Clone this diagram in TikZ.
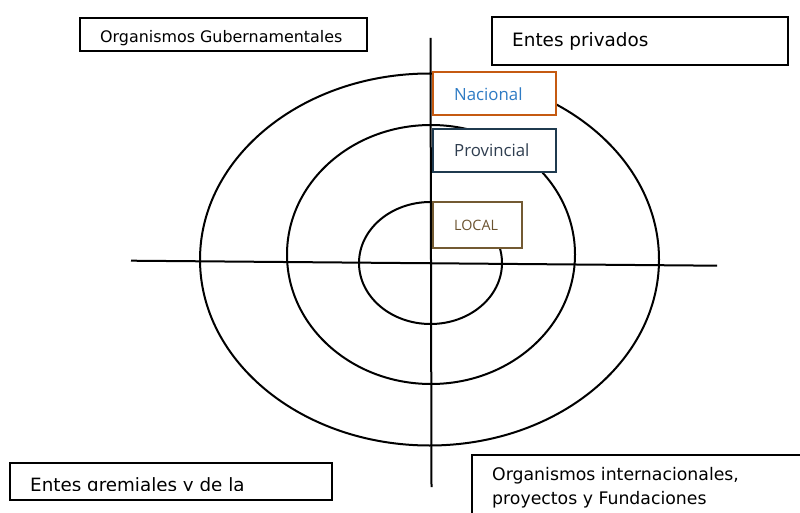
\documentclass[tikz,border=0pt]{standalone}
\usepackage{fontspec}
\setmainfont{DejaVu Sans}
\newfontfamily\boxfont{Open Sans}
\definecolor{orangeb}{HTML}{C55A11}
\definecolor{navyb}{HTML}{1F3A4F}
\definecolor{brownb}{HTML}{735A32}
\definecolor{bluet}{HTML}{2E7BC4}
\definecolor{slatet}{HTML}{2F3E50}
\definecolor{brownt}{HTML}{6B5330}
\begin{document}
\begin{tikzpicture}[x=1pt,y=-1pt,
  ring/.style={draw=black,line width=2pt},
  axis/.style={draw=black,line width=2pt},
  plainbox/.style={draw=black,fill=white,line width=2pt,rectangle,inner sep=0pt},
  openbox/.style={fill=white,rectangle,inner sep=0pt},
  levelbox/.style={fill=white,line width=2.6pt,rectangle,inner sep=0pt},
  lbl/.style={anchor=base west,inner sep=0pt}]
\useasboundingbox[fill=white] (0,0) rectangle (800,513);
% rings
\draw[ring] (429.5,259.5) ellipse [x radius=229.5pt, y radius=186pt];
\draw[ring] (431,254.5) ellipse [x radius=144pt, y radius=129.5pt];
\draw[ring] (430.5,263) ellipse [x radius=71.5pt, y radius=61pt];
% axes
\coordinate (hl) at (131,260.7);
\coordinate (hr) at (717,265.7);
\coordinate (vt) at (430.5,38);
\coordinate (vb) at (431.5,487);
\draw[axis] (hl) -- (hr);
\draw[axis] (vt) -- (vb);
% top boxes
\node[plainbox,minimum width=287pt,minimum height=33pt] (gub) at (223.5,34.5) {};
\node[lbl,font=\fontsize{15.9}{18}\selectfont] (gubt) at (100,43) {Organismos Gubernamentales};
\node[plainbox,minimum width=296pt,minimum height=48pt] (priv) at (640,41) {};
\node[lbl,font=\fontsize{18.4}{20}\selectfont] (privt) at (512,47) {Entes privados};
% level boxes
\node[levelbox,draw=orangeb,minimum width=123pt,minimum height=43pt] (nac) at (494.5,93.5) {};
\node[lbl,text=bluet,font=\boxfont\fontsize{16.8}{19}\selectfont] (nact) at (454,100.5) {Nacional};
\node[levelbox,draw=navyb,minimum width=123pt,minimum height=43pt] (prov) at (494.5,150.5) {};
\node[lbl,text=slatet,font=\boxfont\fontsize{16.8}{19}\selectfont] (provt) at (454,157) {Provincial};
\node[levelbox,draw=brownb,minimum width=89pt,minimum height=46pt] (loc) at (477.5,225) {};
\node[lbl,text=brownt,font=\boxfont\fontsize{14.3}{16}\selectfont] (loct) at (454,230.5) {LOCAL};
% bottom boxes
\node[plainbox,minimum width=322pt,minimum height=37pt] (grem) at (171,481.5) {};
\begin{scope}
\clip (0,0) rectangle (800,490.5);
\node[lbl,font=\fontsize{18.3}{20}\selectfont] (gremt) at (30,491) {Entes gremiales y de la};
\end{scope}
\node[openbox,minimum width=340pt,minimum height=70pt] (intl) at (642,490) {};
\draw[line width=2pt] (intl.north east) -- (intl.north west) -- (intl.south west);
\node[lbl,font=\fontsize{17.3}{24}\selectfont,align=left,anchor=north west] (intlt) at (492,467) {Organismos internacionales,\\proyectos y Fundaciones};
\end{tikzpicture}
\end{document}
